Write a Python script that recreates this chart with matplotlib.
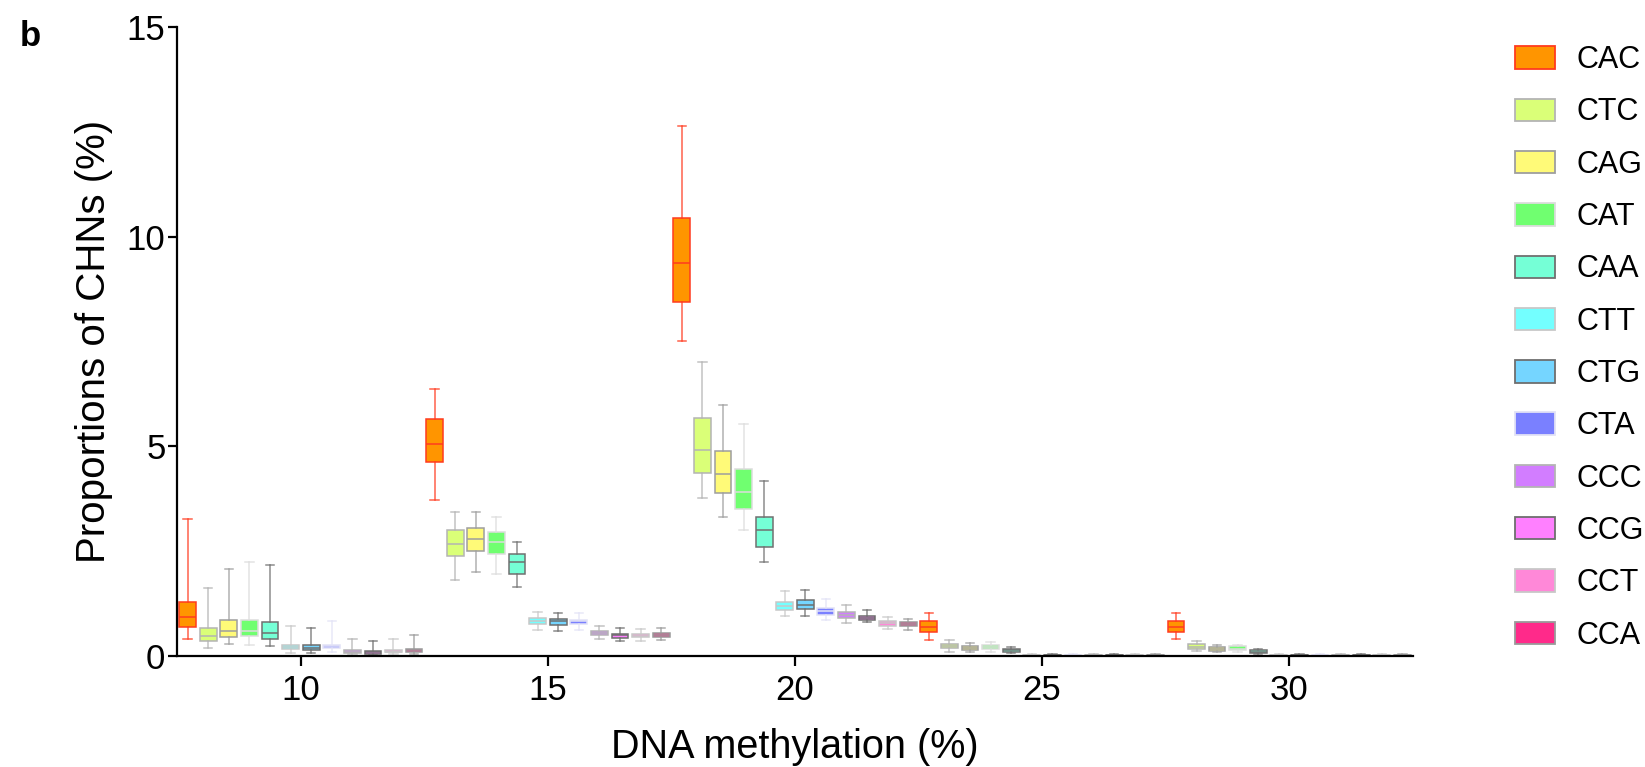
import matplotlib
matplotlib.use("Agg")
import matplotlib.pyplot as plt
from matplotlib.patches import Patch

plt.rcParams['font.family'] = ['Liberation Sans', 'DejaVu Sans']

# ---------------- data ----------------
contexts = ["CAC", "CTC", "CAG", "CAT", "CAA", "CTT", "CTG", "CTA", "CCC", "CCG", "CCT", "CCA"]
group_starts = [7.5, 12.5, 17.5, 22.5, 27.5]   # each group spans 5 % methylation units

whisker_low = [
    [0.40, 0.19, 0.27, 0.25, 0.22, 0.07, 0.07, 0.10, 0.03, 0.02, 0.03, 0.03],
    [3.71, 1.80, 2.00, 1.96, 1.65, 0.61, 0.60, 0.61, 0.40, 0.36, 0.36, 0.37],
    [7.50, 3.76, 3.31, 3.01, 2.23, 0.95, 0.95, 0.85, 0.79, 0.80, 0.64, 0.61],
    [0.38, 0.10, 0.09, 0.09, 0.06, 0.00, 0.00, 0.00, 0.00, 0.00, 0.00, 0.00],
    [0.41, 0.12, 0.08, 0.09, 0.03, 0.00, 0.00, 0.00, 0.00, 0.00, 0.00, 0.00],
]
q1 = [
    [0.68, 0.36, 0.44, 0.47, 0.41, 0.15, 0.14, 0.18, 0.07, 0.05, 0.08, 0.08],
    [4.63, 2.39, 2.49, 2.42, 1.96, 0.76, 0.74, 0.76, 0.49, 0.43, 0.44, 0.45],
    [8.43, 4.37, 3.87, 3.50, 2.59, 1.09, 1.11, 0.97, 0.89, 0.86, 0.72, 0.70],
    [0.57, 0.18, 0.14, 0.15, 0.09, 0.00, 0.00, 0.00, 0.00, 0.00, 0.00, 0.00],
    [0.56, 0.16, 0.12, 0.13, 0.06, 0.00, 0.00, 0.00, 0.00, 0.00, 0.00, 0.00],
]
median = [
    [0.92, 0.46, 0.60, 0.60, 0.54, 0.21, 0.19, 0.22, 0.10, 0.08, 0.10, 0.13],
    [5.04, 2.66, 2.78, 2.72, 2.23, 0.83, 0.83, 0.82, 0.54, 0.49, 0.48, 0.50],
    [9.36, 4.90, 4.34, 3.91, 2.99, 1.19, 1.21, 1.07, 0.97, 0.91, 0.77, 0.75],
    [0.69, 0.22, 0.18, 0.20, 0.13, 0.01, 0.01, 0.01, 0.01, 0.01, 0.01, 0.01],
    [0.69, 0.21, 0.17, 0.17, 0.10, 0.01, 0.01, 0.01, 0.01, 0.01, 0.01, 0.01],
]
q3 = [
    [1.27, 0.65, 0.85, 0.84, 0.80, 0.26, 0.25, 0.26, 0.13, 0.11, 0.14, 0.16],
    [5.64, 2.99, 3.04, 2.96, 2.43, 0.89, 0.88, 0.86, 0.60, 0.52, 0.52, 0.54],
    [10.45, 5.66, 4.89, 4.45, 3.30, 1.29, 1.32, 1.14, 1.04, 0.95, 0.82, 0.80],
    [0.82, 0.27, 0.23, 0.25, 0.16, 0.02, 0.02, 0.02, 0.02, 0.02, 0.02, 0.02],
    [0.83, 0.27, 0.21, 0.22, 0.13, 0.02, 0.02, 0.02, 0.02, 0.02, 0.02, 0.02],
]
whisker_high = [
    [3.25, 1.61, 2.08, 2.24, 2.17, 0.72, 0.65, 0.82, 0.40, 0.36, 0.41, 0.49],
    [6.37, 3.42, 3.43, 3.30, 2.72, 1.05, 1.01, 1.01, 0.72, 0.67, 0.64, 0.66],
    [12.63, 7.00, 5.99, 5.52, 4.17, 1.54, 1.56, 1.36, 1.22, 1.08, 0.93, 0.88],
    [1.03, 0.37, 0.30, 0.32, 0.20, 0.03, 0.03, 0.03, 0.03, 0.03, 0.03, 0.03],
    [1.01, 0.34, 0.26, 0.26, 0.16, 0.03, 0.03, 0.03, 0.03, 0.03, 0.03, 0.03],
]

x_ticks = [10, 15, 20, 25, 30]
y_ticks = [0, 5, 10, 15]

# ---------------- styles ----------------
fill_colors = ["#FF9500", "#DAFF78", "#FFFA78", "#70FF70", "#75FFD6", "#73FFFF",
               "#75D5FF", "#7A80FF", "#D27DFF", "#FF80FF", "#FF88D8", "#FF2A8A"]
edge_colors = ["#FF3B1F", "#B4B4B4", "#9E9E9E", "#DCDCDC", "#707070", "#C8C8C8",
               "#6E6E6E", "#E2E2F6", "#B4B4B4", "#6E6E6E", "#C8C8C8", "#9A9A9A"]

fig = plt.figure(figsize=(16.45, 7.67), dpi=100)
ax = fig.add_axes([177.3 / 1645, 1 - 655.7 / 767, (1412.7 - 177.3) / 1645, (655.7 - 27) / 767])

step = 5 / len(contexts)
for g, start in enumerate(group_starts):
    for i, name in enumerate(contexts):
        stats = [dict(whislo=whisker_low[g][i], q1=q1[g][i], med=median[g][i],
                      q3=q3[g][i], whishi=whisker_high[g][i], fliers=[], label=name)]
        pos = start + (i + 0.5) * step
        ec = edge_colors[i]
        ax.bxp(stats, positions=[pos], widths=0.34, patch_artist=True,
               showfliers=False, capwidths=0.17, manage_ticks=False,
               boxprops=dict(facecolor=fill_colors[i], edgecolor=ec, linewidth=1.1),
               medianprops=dict(color=ec, linewidth=1.1),
               whiskerprops=dict(color=ec, linewidth=1.1, alpha=0.8),
               capprops=dict(color=ec, linewidth=1.1, alpha=0.8))

ax.set_xlim(7.5, 32.5)
ax.set_ylim(0, 15)
ax.set_xticks(x_ticks)
ax.set_xticklabels([str(t) for t in x_ticks])
ax.set_yticks(y_ticks)
ax.set_yticklabels([str(t) for t in y_ticks])

for s in ["top", "right"]:
    ax.spines[s].set_visible(False)
for s in ["left", "bottom"]:
    ax.spines[s].set_linewidth(1.6)
    ax.spines[s].set_color("black")

ax.tick_params(axis="x", direction="out", length=7, width=1.6, pad=6, labelsize=25)
ax.tick_params(axis="y", direction="out", length=6.5, width=1.6, pad=2, labelsize=25)

ax.set_xlabel("DNA methylation (%)", fontsize=28.5, labelpad=15)
ax.set_ylabel("Proportions of CHNs (%)", fontsize=29, labelpad=10)

fig.text(20 / 1645, 1 - 36 / 767, "b", fontsize=25, fontweight="bold", va="center", ha="left")

handles = [Patch(facecolor=fill_colors[i], edgecolor=edge_colors[i], linewidth=1.3, label=n)
           for i, n in enumerate(contexts)]
ax.legend(handles=handles, loc="upper left", bbox_to_anchor=(1506 / 1645, 1 - 36 / 767),
          bbox_transform=fig.transFigure, frameon=False, fontsize=22,
          handlelength=1.3, handleheight=0.75, labelspacing=0.73, handletextpad=0.72,
          borderaxespad=0, borderpad=0.3)

fig.savefig("out.png", dpi=100)
